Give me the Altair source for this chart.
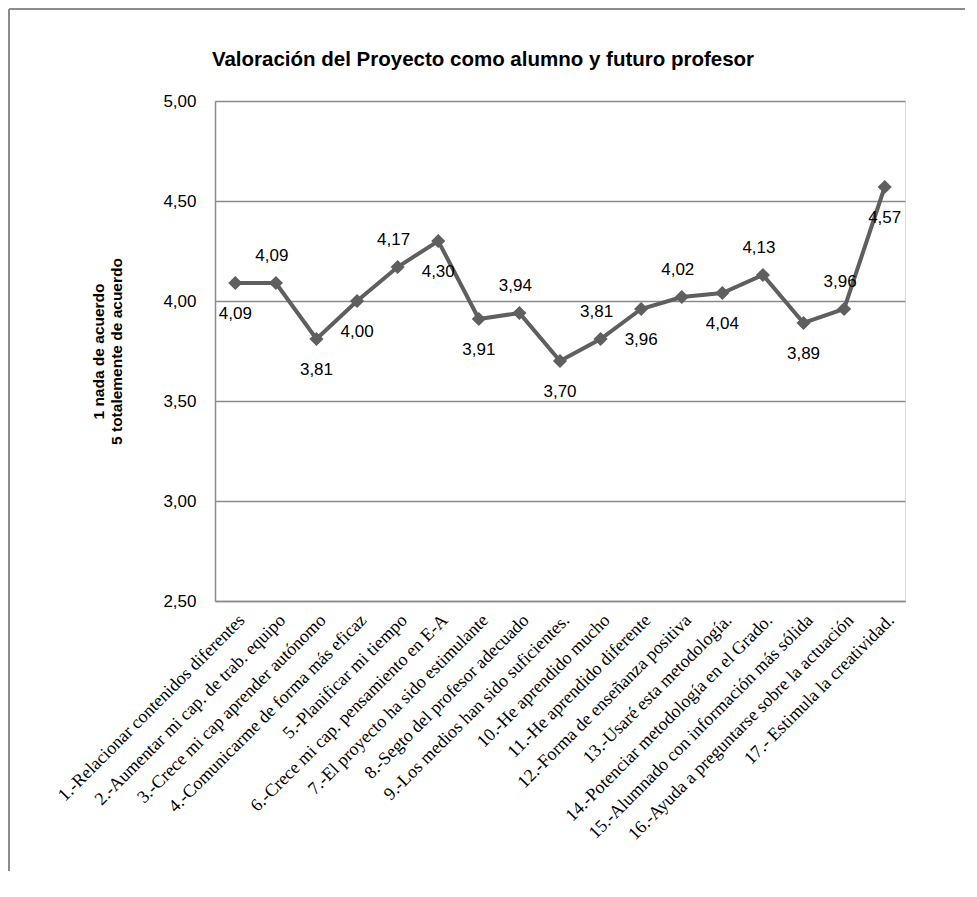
import altair as alt
import pandas as pd

items = [
    "1.-Relacionar contenidos diferentes",
    "2.-Aumentar mi cap. de trab.  equipo",
    "3.-Crece mi cap aprender autónomo",
    "4.-Comunicarme  de forma más eficaz",
    "5.-Planificar mi tiempo",
    "6.-Crece mi cap. pensamiento  en E-A",
    "7.-El proyecto ha sido estimulante",
    "8.-Segto del profesor adecuado",
    "9.-Los medios  han sido suficientes.",
    "10.-He aprendido mucho",
    "11.-He aprendido diferente",
    "12.-Forma de enseñanza positiva",
    "13.-Usaré esta metodología.",
    "14.-Potenciar metodología  en el Grado.",
    "15.-Alumnado con información más sólida",
    "16.-Ayuda a preguntarse sobre la actuación",
    "17.- Estimula la creatividad.",
]
values = [4.09, 4.09, 3.81, 4.00, 4.17, 4.30, 3.91, 3.94, 3.70,
          3.81, 3.96, 4.02, 4.04, 4.13, 3.89, 3.96, 4.57]
label_pos = ["below", "above", "below", "below", "above", "below", "below", "above", "below",
             "above", "below", "above", "below", "above", "below", "above", "below"]
title_text = "Valoración del Proyecto como alumno y futuro profesor"

df = pd.DataFrame({
    "item": items,
    "value": values,
    "pos": label_pos,
    "label": [f"{v:.2f}".replace(".", ",") for v in values],
})

LINE = "#5f5f5f"
GRID = "#8a8a8a"

x_enc = alt.X(
    "item:N", sort=items, title=None,
    scale=alt.Scale(type="point", padding=0.5),
    axis=alt.Axis(labelAngle=-45, labelFont="Liberation Serif", labelFontSize=18,
                  labelColor="#000000", labelLimit=400, ticks=False, domain=True,
                  domainColor=GRID, domainWidth=1.5, labelPadding=10, grid=False),
)
y_enc = alt.Y(
    "value:Q",
    scale=alt.Scale(domain=[2.5, 5.0], nice=False, zero=False),
    title=["1 nada de acuerdo", "5 totalemente de acuerdo"],
    axis=alt.Axis(values=[2.5, 3.0, 3.5, 4.0, 4.5, 5.0],
                  labelExpr="replace(format(datum.value, '.2f'), '.', ',')",
                  labelFont="Liberation Sans", labelFontSize=17, labelColor="#000000",
                  labelPadding=19, ticks=False, domainColor=GRID, domainWidth=1.5,
                  gridColor=GRID, gridWidth=1.5,
                  titleFont="Liberation Sans", titleFontSize=15.5, titleFontWeight="bold",
                  titleColor="#000000", titlePadding=38, titleLineHeight=18),
)

base = alt.Chart(df)

line = base.mark_line(color=LINE, strokeWidth=4).encode(x=x_enc, y=y_enc)
pts = base.mark_point(shape="diamond", filled=True, size=200, color=LINE, opacity=1).encode(
    x=alt.X("item:N", sort=items), y="value:Q")

txt_below = base.transform_filter("datum.pos == 'below'").mark_text(
    font="Liberation Sans", fontSize=17, color="#000000", dy=31).encode(
    x=alt.X("item:N", sort=items), y="value:Q", text="label:N")
txt_above = base.transform_filter("datum.pos == 'above'").mark_text(
    font="Liberation Sans", fontSize=17, color="#000000", dy=-27, dx=-4).encode(
    x=alt.X("item:N", sort=items), y="value:Q", text="label:N")

one = pd.DataFrame({"t": [title_text]})
title = alt.Chart(one).mark_text(
    font="Liberation Sans", fontSize=20.5, fontWeight="bold", color="#000000",
    align="center", baseline="middle").encode(
    x=alt.value(268), y=alt.value(-41), text="t:N")

border_left = alt.Chart(one).mark_rule(color="#8c8c8c", strokeWidth=2).encode(
    x=alt.value(-206), y=alt.value(-92), y2=alt.value(790))
border_top = alt.Chart(one).mark_rule(color="#8c8c8c", strokeWidth=2).encode(
    x=alt.value(-206), x2=alt.value(760), y=alt.value(-92))

chart = alt.layer(border_left, border_top, line, pts, txt_below, txt_above, title).properties(
    width=690, height=500,
    autosize=alt.AutoSizeParams(type="none"),
    padding={"left": 207, "top": 93, "right": 60, "bottom": 270},
).configure_view(stroke=None).configure(background="white")

chart.save("out.html", embed_options={"renderer": "svg", "actions": False})
